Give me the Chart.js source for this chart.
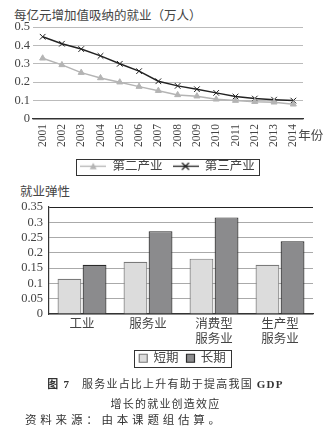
<!DOCTYPE html>
<html>
<head>
<meta charset="utf-8">
<script src="https://cdn.jsdelivr.net/npm/chart.js@4/dist/chart.umd.min.js"></script>
<style>
body{margin:0;width:331px;height:444px;background:#fff;position:relative;overflow:hidden;font-family:"Liberation Serif","Noto Sans CJK SC",serif;color:#333}
canvas{position:absolute;left:0}
#c1{top:0}
#c2{top:178px}
.t{position:absolute;font-size:12.5px;color:#444;white-space:nowrap}
.cap{position:absolute;left:0;width:331px;text-align:center;font-size:11px;letter-spacing:1.2px;color:#333;white-space:nowrap}
</style>
</head>
<body>
<div class="t" style="left:14px;top:5px">每亿元增加值吸纳的就业（万人）</div>
<div class="t" style="left:20px;top:181px">就业弹性</div>
<canvas id="c1" width="331" height="186"></canvas>
<canvas id="c2" width="331" height="200"></canvas>
<div class="cap" style="top:375px"><b>图 7</b>&nbsp;&nbsp; 服务业占比上升有助于提高我国 <b>GDP</b></div>
<div class="cap" style="top:395px">增长的就业创造效应</div>
<div class="cap" style="top:411px;text-align:left;left:25px;letter-spacing:3.8px;font-size:11.5px">资料来源：由本课题组估算。</div>
<script>
// 上图：每亿元增加值吸纳的就业
const years = ['2001','2002','2003','2004','2005','2006','2007','2008','2009','2010','2011','2012','2013','2014'];
const secondary = [0.33, 0.294, 0.252, 0.223, 0.20, 0.176, 0.154, 0.131, 0.124, 0.107, 0.10, 0.094, 0.091, 0.08];
const tertiary = [0.447, 0.409, 0.38, 0.343, 0.30, 0.26, 0.205, 0.18, 0.162, 0.142, 0.122, 0.111, 0.105, 0.10];

// 下图：就业弹性
const sectors = ['工业', '服务业', ['消费型', '服务业'], ['生产型', '服务业']];
const shortTerm = [0.115, 0.171, 0.181, 0.161];
const longTerm = [0.161, 0.271, 0.316, 0.238];

const serif = '"Liberation Serif", "Noto Sans CJK SC", serif';
const txt = '#444';

// 图例里的线+标记
function lineMarker(color, shape) {
  const c = document.createElement('canvas');
  c.width = 26; c.height = 9;
  const g = c.getContext('2d');
  g.strokeStyle = color; g.fillStyle = color; g.lineWidth = 1.3;
  g.beginPath(); g.moveTo(0, 4.5); g.lineTo(26, 4.5); g.stroke();
  if (shape === 'tri') {
    g.beginPath(); g.moveTo(13, 1); g.lineTo(16.5, 7.5); g.lineTo(9.5, 7.5); g.closePath(); g.fill();
  } else {
    g.beginPath(); g.moveTo(9.5, 1); g.lineTo(16.5, 8); g.moveTo(16.5, 1); g.lineTo(9.5, 8); g.stroke();
  }
  return c;
}

// 图例外框，顺便把图例横向挪到原图的位置
const legendBox = {
  id: 'legendBox',
  afterLayout(chart, args, opts) {
    chart.legend.left += opts.shift;
    chart.legend.right += opts.shift;
  },
  afterDraw(chart, args, opts) {
    const b = chart.legend.legendHitBoxes;
    if (!b || !b.length) return;
    const l = Math.min(...b.map(x => x.left)) - opts.padX;
    const r = Math.max(...b.map(x => x.left + x.width)) + opts.padX;
    const t = Math.min(...b.map(x => x.top)) - opts.padY;
    const bt = Math.max(...b.map(x => x.top + x.height)) + opts.padY;
    const ctx = chart.ctx;
    ctx.save();
    ctx.strokeStyle = '#333'; ctx.lineWidth = 1;
    ctx.strokeRect(Math.round(l) + 0.5, Math.round(t) + 0.5, Math.round(r - l), Math.round(bt - t));
    ctx.restore();
  }
};

// “年份”
const yearUnit = {
  id: 'yearUnit',
  afterDraw(chart) {
    const x = chart.scales.x;
    const ctx = chart.ctx;
    ctx.save();
    ctx.font = '12.5px ' + serif;
    ctx.fillStyle = txt;
    ctx.textBaseline = 'middle';
    ctx.fillText('年份', x.getPixelForValue(years.length - 1) + 5, x.top + 18);
    ctx.restore();
  }
};

new Chart(document.getElementById('c1'), {
  type: 'line',
  data: {
    labels: years,
    datasets: [{
      label: '第二产业',
      data: secondary,
      borderColor: '#b4b4b4',
      backgroundColor: '#b4b4b4',
      borderWidth: 1.5,
      pointStyle: 'triangle',
      pointRadius: 3.5,
      pointBorderWidth: 1
    }, {
      label: '第三产业',
      data: tertiary,
      borderColor: '#222',
      backgroundColor: '#222',
      borderWidth: 1.5,
      pointStyle: 'crossRot',
      pointRadius: 4,
      pointBorderWidth: 1
    }]
  },
  options: {
    responsive: false,
    animation: false,
    layout: {padding: {left: 8, right: 28, top: 27, bottom: 3.5}},
    plugins: {
      legend: {
        position: 'bottom',
        labels: {
          usePointStyle: true,
          pointStyleWidth: 26,
          padding: 10,
          color: txt,
          font: {family: serif, size: 12.5},
          generateLabels(chart) {
            return chart.data.datasets.map((d, i) => ({
              text: d.label,
              pointStyle: lineMarker(d.borderColor, i === 0 ? 'tri' : 'x'),
              fillStyle: d.borderColor,
              strokeStyle: d.borderColor,
              lineWidth: 0,
              fontColor: txt,
              datasetIndex: i
            }));
          }
        }
      },
      legendBox: {padX: 4, padY: 1.5, shift: 12},
      tooltip: {enabled: false}
    },
    scales: {
      x: {
        offset: true,
        grid: {display: false, drawTicks: false},
        border: {color: '#333', width: 1.2},
        afterFit(s) { s.height = 31; },
        ticks: {autoSkip: false, minRotation: 90, maxRotation: 90, color: txt, font: {family: serif, size: 11.5}, padding: 5}
      },
      y: {
        min: 0, max: 0.5,
        afterFit(s) { s.width = 25; },
        grid: {color: '#bbb', drawTicks: false},
        border: {display: false},
        ticks: {autoSkip: false, stepSize: 0.1, padding: 3, color: txt, font: {family: serif, size: 12.5}, callback: v => String(+v.toFixed(1))}
      }
    }
  },
  plugins: [legendBox, yearUnit]
});

new Chart(document.getElementById('c2'), {
  type: 'bar',
  data: {
    labels: sectors,
    datasets: [{
      label: '短期',
      data: shortTerm,
      backgroundColor: '#dcdcdc',
      borderColor: '#7a7a7a',
      borderWidth: 1.2,
      categoryPercentage: 0.76,
      barPercentage: 0.95
    }, {
      label: '长期',
      data: longTerm,
      backgroundColor: '#8b8b8d',
      borderColor: '#2a2a2a',
      borderWidth: 1.2,
      categoryPercentage: 0.76,
      barPercentage: 0.95
    }]
  },
  options: {
    responsive: false,
    animation: false,
    layout: {padding: {left: 10, right: 18, top: 29, bottom: 3.5}},
    plugins: {
      legend: {
        position: 'bottom',
        labels: {
          boxWidth: 8,
          boxHeight: 8,
          padding: 8,
          color: txt,
          font: {family: serif, size: 12.5}
        }
      },
      legendBox: {padX: 5, padY: 2, shift: 21},
      tooltip: {enabled: false}
    },
    scales: {
      x: {
        grid: {display: false, drawTicks: false},
        border: {color: '#333', width: 1.2},
        afterFit(s) { s.height = 30; },
        ticks: {maxRotation: 0, color: txt, font: {family: serif, size: 12.5}, padding: 3}
      },
      y: {
        min: 0, max: 0.35,
        afterFit(s) { s.width = 39; },
        grid: {color: c => c.index === 7 ? '#222' : '#aaa', drawTicks: false},
        border: {color: '#333', width: 1.2},
        ticks: {autoSkip: false, stepSize: 0.05, padding: 6, color: txt, font: {family: serif, size: 12.5}, callback: v => String(+v.toFixed(2))}
      }
    }
  },
  plugins: [legendBox]
});
</script>
</body>
</html>
